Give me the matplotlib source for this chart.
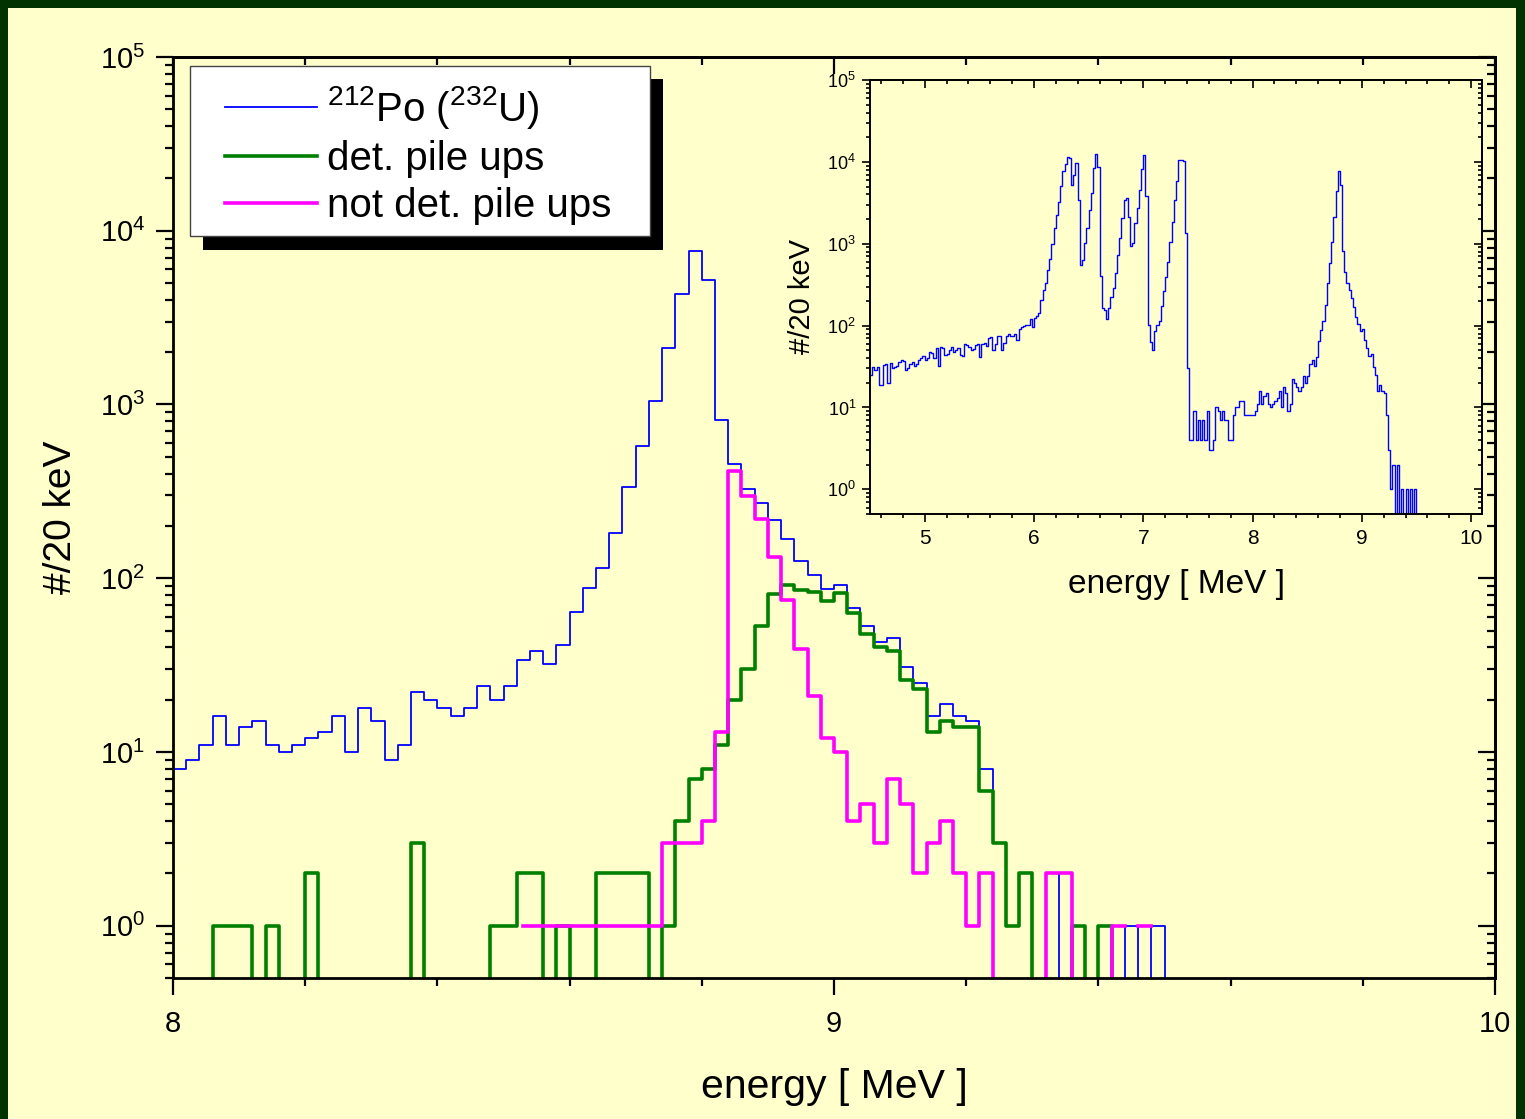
import numpy as np
import matplotlib
matplotlib.use('Agg')
import matplotlib.pyplot as plt
from matplotlib.patches import Rectangle
from matplotlib.ticker import MultipleLocator, FixedLocator, LogLocator, NullFormatter

plt.rcParams['font.family'] = ['Liberation Sans', 'DejaVu Sans']
plt.rcParams['mathtext.fontset'] = 'custom'
plt.rcParams['mathtext.rm'] = 'Liberation Sans'
plt.rcParams['mathtext.it'] = 'Liberation Sans:italic'
plt.rcParams['mathtext.bf'] = 'Liberation Sans:bold'

W, H = 1525, 1119
BG = '#FFFFCC'
FRAME = '#003300'
BIN = 0.02  # 20 keV bins

# 212Po (232U) spectrum, counts / 20 keV, bins starting at 4.50 MeV
po_start = 4.50
po_low = [25, 31, 29, 31, 19, 19, 33, 34, 20, 35,
          30, 31, 32, 36, 38, 37, 29, 30, 34, 36,
          32, 34, 38, 40, 43, 38, 40, 47, 46, 40,
          53, 32, 55, 54, 44, 45, 50, 55, 47, 50,
          53, 44, 43, 60, 58, 55, 50, 52, 58, 60,
          41, 60, 62, 56, 70, 72, 50, 60, 74,
          # 5.68 MeV
          74, 50, 62, 74, 78, 74, 74, 78, 67, 90,
          95, 98, 103, 103, 119, 97, 125, 130, 143, 205,
          271, 333, 475, 649, 989, 1537, 2238, 3256, 5060, 7800,
          9400, 11560, 11000, 5200, 6900, 9770, 3410, 547, 630, 1008,
          1537, 2575, 4200, 8320, 12340, 8720,
          # 6.60 MeV
          402, 166, 154, 122, 162, 224, 292, 445, 726, 1160,
          2037, 3410, 3575, 2135, 935, 1026, 1800, 2700, 4520, 8090,
          12100, 3820, 101, 63, 51, 86, 101, 114, 173, 266,
          394, 601, 1057, 1854, 3410, 5880, 10500, 10400, 10200, 1335,
          30,
          # 7.42 MeV
          4, 4, 9, 4, 7, 4, 7, 4, 9, 3,
          3, 4, 10, 9, 7, 9, 7, 7, 4, 4,
          8, 10, 10, 12, 12, 8, 8, 8, 8]
# 8.00 ... 9.50 MeV
po_high = [8, 9, 11, 16, 11, 14, 15, 11, 10, 11,
           12, 13, 16, 10, 18, 15, 9, 11, 22, 20,
           18, 16, 18, 24, 20, 24, 34, 38, 32, 41,
           64, 88, 114, 181, 336, 574, 1045, 2127, 4350, 7640,
           5200, 812, 455, 328, 272, 216, 168, 126, 104, 87,
           92, 67, 53, 43, 45, 31, 25, 16, 19, 16,
           15, 8, 3, 1, 2, 0, 2, 0, 1, 0,
           1, 0, 1, 0, 1, 0]

# detected pile ups, bins starting at 8.00 MeV
det_start = 8.00
det_pu = [0, 0, 0, 1, 1, 1, 0, 1, 0, 0,
          2, 0, 0, 0, 0, 0, 0, 0, 3, 0,
          0, 0, 0, 0, 1, 1, 2, 2, 0, 1,
          0, 0, 2, 2, 2, 2, 0, 1, 4, 7,
          8, 11, 20, 30, 53, 81, 91, 86, 83, 74,
          82, 63, 48, 40, 38, 26, 23, 13, 15, 14,
          14, 6, 3, 1, 2, 0, 0, 0, 1, 0,
          1, 0]

# not detected pile ups, bins starting at 8.52 MeV (nan = no entry)
nd_start = 8.52
notdet_pu = [1, 1, 1, 1, 1, 1, 1, 1, 1, 1,
             1, 3, 3, 3, 4, 13, 416, 299, 220, 133,
             75, 39, 21, 12, 10, 4, 5, 3, 7, 5,
             2, 3, 4, 2, 1, 2, 0, 0, 0, 0,
             2, 2, 0, 0, 0, 1, np.nan, 1, np.nan]

po = np.array(po_low + po_high, dtype=float)
e_po = po_start + BIN * (np.arange(len(po)) + 0.5)
e_det = det_start + BIN * (np.arange(len(det_pu)) + 0.5)
e_nd = nd_start + BIN * (np.arange(len(notdet_pu)) + 0.5)

fig = plt.figure(figsize=(W / 100, H / 100), dpi=100)
fig.patch.set_facecolor(FRAME)
fig.add_artist(Rectangle((8 / W, 0), (1516 - 8) / W, (H - 8) / H,
                         transform=fig.transFigure, facecolor=BG,
                         edgecolor='none', zorder=-10))

# ---- main plot
ax = fig.add_axes([173 / W, 1 - 978 / H, (1495 - 173) / W, (978 - 57) / H])
ax.set_facecolor(BG)
ax.set_yscale('log')
l1, = ax.plot(e_po, po, drawstyle='steps-mid', color='#0000FF', lw=1.3)
l2, = ax.plot(e_det, det_pu, drawstyle='steps-mid', color='#008000', lw=2.6)
l3, = ax.plot(e_nd, notdet_pu, drawstyle='steps-mid', color='#FF00FF', lw=2.6)
ax.set_xlim(8, 10)
ax.set_ylim(0.5, 1e5)
ax.xaxis.set_major_locator(FixedLocator([8, 9, 10]))
ax.xaxis.set_minor_locator(MultipleLocator(0.2))
ax.yaxis.set_major_locator(LogLocator(base=10, numticks=12))
ax.yaxis.set_minor_locator(LogLocator(base=10, subs=np.arange(2, 10), numticks=12))
ax.yaxis.set_minor_formatter(NullFormatter())
ax.tick_params(which='major', direction='out', length=12, width=1.6,
               labelsize=21, pad=8)
ax.tick_params(axis='x', which='major', pad=11)
ax.tick_params(which='minor', direction='out', length=6, width=1.6)
for s in ax.spines.values():
    s.set_linewidth(2)
ax.set_xlabel('energy [ MeV ]', fontsize=29.5, labelpad=22)
ax.set_ylabel('#/20 keV', fontsize=28, labelpad=15)

top = ax.secondary_xaxis('top')
top.xaxis.set_major_locator(FixedLocator([8, 9, 10]))
top.xaxis.set_minor_locator(MultipleLocator(0.2))
top.tick_params(which='major', direction='in', length=12, width=1.6, labeltop=False)
top.tick_params(which='minor', direction='in', length=6, width=1.6)
right = ax.secondary_yaxis('right')
right.tick_params(which='major', direction='in', length=12, width=1.6, labelright=False)
right.tick_params(which='minor', direction='in', length=6, width=1.6)
right.yaxis.set_minor_formatter(NullFormatter())
for sec in (top, right):
    for s in sec.spines.values():
        s.set_linewidth(2)

# legend box with black shadow
ax.add_patch(Rectangle((203 / W, 1 - 250 / H), 460 / W, 171 / H,
                       transform=fig.transFigure, facecolor='black',
                       edgecolor='none', zorder=4, clip_on=False))
ax.add_patch(Rectangle((190 / W, 1 - 236 / H), 460 / W, 170 / H,
                       transform=fig.transFigure, facecolor='white',
                       edgecolor='#444444', lw=1, zorder=4.5, clip_on=False))
leg = ax.legend([l1, l2, l3],
                ['$^{212}$Po ($^{232}$U)', 'det. pile ups', 'not det. pile ups'],
                loc='upper left', bbox_to_anchor=(225 / W, 1 - 84 / H),
                bbox_transform=fig.transFigure, frameon=False, fontsize=29,
                handlelength=2.28, handletextpad=0.25, borderpad=0,
                borderaxespad=0, labelspacing=0.22)
leg.set_zorder(6)

# ---- inset: full spectrum
ins = fig.add_axes([870 / W, 1 - 514 / H, (1482 - 870) / W, (514 - 80) / H])
ins.set_zorder(5)
ins.set_facecolor(BG)
ins.set_yscale('log')
ins.plot(e_po, po, drawstyle='steps-mid', color='#0000FF', lw=1.0)
ins.set_xlim(4.5, 10.1)
ins.set_ylim(0.5, 1e5)
ins.xaxis.set_major_locator(MultipleLocator(1))
ins.xaxis.set_minor_locator(MultipleLocator(0.2))
ins.yaxis.set_major_locator(LogLocator(base=10, numticks=12))
ins.yaxis.set_minor_locator(LogLocator(base=10, subs=np.arange(2, 10), numticks=12))
ins.yaxis.set_minor_formatter(NullFormatter())
ins.tick_params(which='major', direction='out', length=6, width=1.2, pad=4)
ins.tick_params(which='minor', direction='out', length=3, width=1.2)
ins.tick_params(axis='x', labelsize=15, pad=5)
ins.tick_params(axis='y', labelsize=13)
for s in ins.spines.values():
    s.set_linewidth(1.4)
ins.set_xlabel('energy [ MeV ]', fontsize=24, labelpad=15)
ins.set_ylabel('#/20 keV', fontsize=21, labelpad=8)

itop = ins.secondary_xaxis('top')
itop.xaxis.set_major_locator(MultipleLocator(1))
itop.xaxis.set_minor_locator(MultipleLocator(0.2))
itop.tick_params(which='major', direction='in', length=6, width=1.2, labeltop=False)
itop.tick_params(which='minor', direction='in', length=3, width=1.2)
iright = ins.secondary_yaxis('right')
iright.tick_params(which='major', direction='in', length=6, width=1.2, labelright=False)
iright.tick_params(which='minor', direction='in', length=3, width=1.2)
iright.yaxis.set_minor_formatter(NullFormatter())
for sec in (itop, iright):
    for s in sec.spines.values():
        s.set_linewidth(1.4)

fig.savefig('out.png', dpi=100, facecolor=fig.get_facecolor())
